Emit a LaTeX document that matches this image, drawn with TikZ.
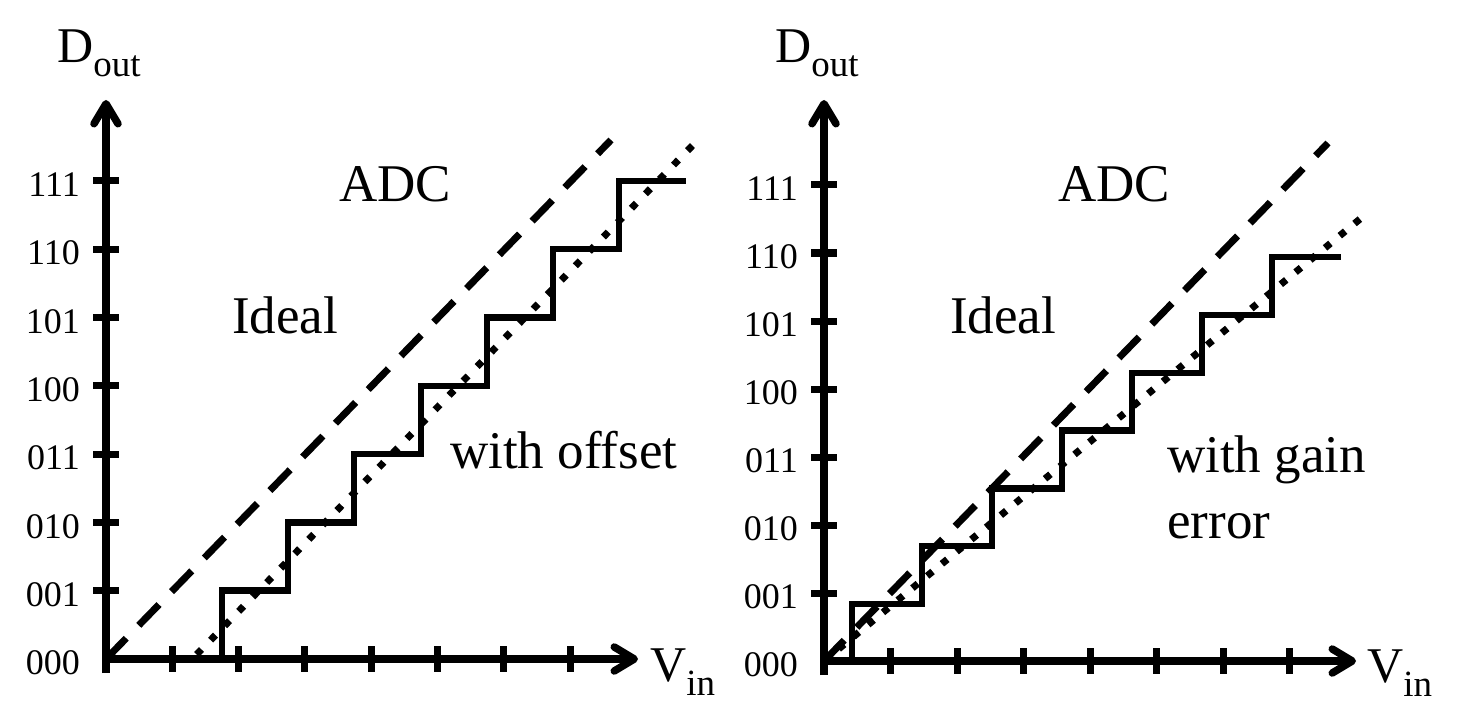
\documentclass[tikz,border=0pt]{standalone}
\usepackage{fontspec}
\setmainfont{Liberation Serif}
\usetikzlibrary{arrows.meta}
\newcommand\mysub[2]{#1\raisebox{-14pt}{\fontsize{37}{37}\selectfont #2}}
\begin{document}
\begin{tikzpicture}[x=1pt,y=-1pt,
  axis/.style={line width=7.5pt,-{Straight Barb[length=20pt,width=24pt,round]}},
  tickline/.style={line width=7pt},
  stair/.style={line width=6.5pt,line join=miter},
  ideal/.style={line width=7pt,dash pattern=on 29pt off 18pt},
  real/.style={line width=7pt,dash pattern=on 7pt off 13.1pt},
  realb/.style={line width=7pt,dash pattern=on 7pt off 12.1pt},
  lbl/.style={font=\fontsize{36}{36}\selectfont,inner sep=0pt,anchor=east},
  big/.style={font=\fontsize{53}{53}\selectfont,inner sep=0pt,anchor=base west},
  axlbl/.style={font=\fontsize{50}{50}\selectfont,inner sep=0pt,anchor=base west},
]
\useasboundingbox (0,0) rectangle (1463,719);

% ---------- left plot ----------
\coordinate (O1) at (106,659);
\coordinate (B1) at (106,673);
\coordinate (Y1) at (106,100);
\coordinate (X1) at (638,659);
\draw[axis] (B1) -- (Y1);
\draw[axis] (O1) -- (X1);
\foreach \k in {1,...,7}{
  \draw[tickline] ({106+66.3*\k},646) -- ({106+66.3*\k},672);
  \draw[tickline] (93,{659-68.3*\k}) -- (119,{659-68.3*\k});
}
\foreach \k/\t in {0/000,1/001,2/010,3/011,4/100,5/101,6/110,7/111}{
  \node[lbl] (a\t) at (80,{663-68.3*\k}) {\t};
}
\node[axlbl] (D1) at (57,63) {\mysub{D}{out}};
\node[axlbl] (V1) at (650,681) {\mysub{V}{in}};
\node[big] (adc1) at (339,202) {ADC};
\node[big] (ideal1) at (232,333) {Ideal};
\node[big] (off1) at (450,468) {with offset};

\coordinate (I1e) at (611,140);
\draw[ideal] (O1) -- (I1e);
\coordinate (R1s) at (196.6,654.5);
\coordinate (R1e) at (693,145);
\draw[real] (R1s) -- (R1e);
\draw[stair] (222,659) -- (222,590.7) -- (288,590.7) -- (288,522.4) -- (354,522.4)
  -- (354,454.1) -- (421,454.1) -- (421,385.8) -- (487,385.8) -- (487,317.5)
  -- (553,317.5) -- (553,249.2) -- (619,249.2) -- (619,180.9) -- (686,180.9);

% ---------- right plot ----------
\coordinate (O2) at (824,661);
\coordinate (B2) at (824,675);
\coordinate (Y2) at (824,100);
\coordinate (X2) at (1356,661);
\draw[axis] (B2) -- (Y2);
\draw[axis] (O2) -- (X2);
\foreach \k in {1,...,7}{
  \draw[tickline] ({824+66.5*\k},648) -- ({824+66.5*\k},674);
  \draw[tickline] (811,{661-68*\k}) -- (837,{661-68*\k});
}
\foreach \k/\t in {0/000,1/001,2/010,3/011,4/100,5/101,6/110,7/111}{
  \node[lbl] (b\t) at (798,{665-68*\k}) {\t};
}
\node[axlbl] (D2) at (775,63) {\mysub{D}{out}};
\node[axlbl] (V2) at (1367,682) {\mysub{V}{in}};
\node[big] (adc2) at (1058,202) {ADC};
\node[big] (ideal2) at (950,333) {Ideal};
\node[big] (gain2) at (1167,472) {with gain};
\node[big] (err2) at (1167,538) {error};

\coordinate (I2e) at (1328,143);
\draw[ideal] (O2) -- (I2e);
\coordinate (R2e) at (1360,219);
\draw[realb] (O2) -- (R2e);
\draw[stair] (852,661) -- (852,604) -- (922,604) -- (922,546) -- (992,546)
  -- (992,488.4) -- (1062,488.4) -- (1062,430.6) -- (1132,430.6) -- (1132,372.8)
  -- (1202,372.8) -- (1202,315) -- (1272,315) -- (1272,257.2) -- (1341,257.2);
\end{tikzpicture}
\end{document}
